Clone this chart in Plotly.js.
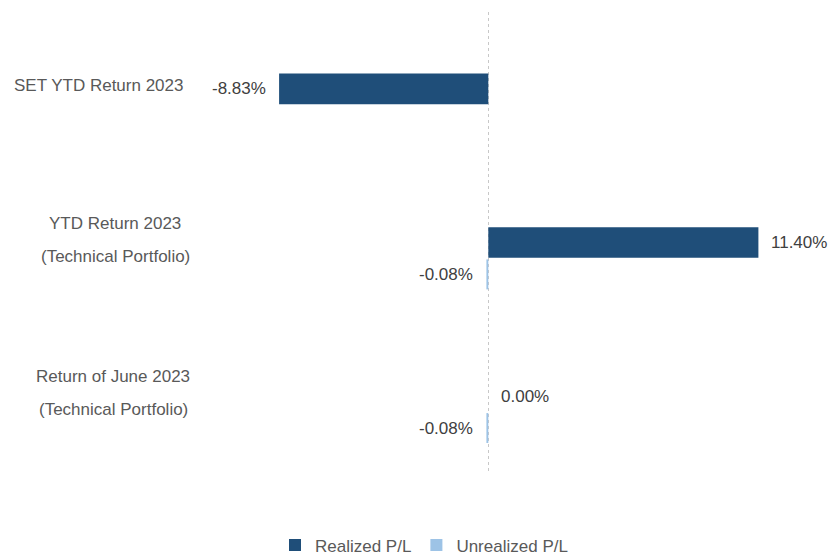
<!DOCTYPE html>
<html>
<head>
<meta charset="utf-8">
<script src="https://cdn.plot.ly/plotly-3.0.1.min.js"></script>
<style>
html,body{margin:0;padding:0;background:#fff;}
#chart{width:832px;height:558px;}
</style>
</head>
<body>
<div id="chart"></div>
<script>
// ---- data ----
var categories = ["SET YTD Return 2023", "YTD Return 2023 (Technical Portfolio)", "Return of June 2023 (Technical Portfolio)"];
var categoryLines = [["SET YTD Return 2023"], ["YTD Return 2023", "(Technical Portfolio)"], ["Return of June 2023", "(Technical Portfolio)"]];
var seriesNames = ["Realized P/L", "Unrealized P/L"];
var realized = [-8.83, 11.40, 0.00];
var unrealized = [null, -0.08, -0.08];

// ---- layout constants ----
var W = 832, H = 558;
var mL = 204, mR = 12, mT = 12, mB = 85;
var plotW = W - mL - mR;
var labelCenters = [98, 115, 113];
var FONT = "Liberation Sans, Arial, sans-serif";
var darkBlue = "#1f4e79", lightBlue = "#9dc3e6";

function fmt(v){ return v.toFixed(2) + "%"; }

var traces = [
  {type: "bar", orientation: "h", name: seriesNames[0], y: categories, x: realized,
   offset: -0.1, width: 0.2, marker: {color: darkBlue}, hoverinfo: "none"},
  {type: "bar", orientation: "h", name: seriesNames[1], y: categories, x: unrealized,
   offset: 0.11, width: 0.195, marker: {color: lightBlue}, hoverinfo: "none"}
];

var annotations = [];
// category labels
categoryLines.forEach(function(lines, ci){
  var n = lines.length;
  lines.forEach(function(line, li){
    var off = (li - (n - 1) / 2) * 33;
    annotations.push({
      xref: "paper", yref: "y", x: (labelCenters[ci] - mL) / plotW, y: categories[ci],
      text: line, showarrow: false, xanchor: "center", yanchor: "middle",
      yshift: 3 - off, font: {family: FONT, size: 17, color: "#595959"}
    });
  });
});
// data labels
function addLabels(vals, yshift){
  vals.forEach(function(v, i){
    if (v === null) return;
    var neg = v < 0;
    annotations.push({
      xref: "x", yref: "y", x: v, y: categories[i], text: fmt(v), showarrow: false,
      xanchor: neg ? "right" : "left", yanchor: "middle", xshift: neg ? -11 : 11,
      yshift: yshift, font: {family: FONT, size: 17, color: "#404040"}
    });
  });
}
addLabels(realized, 0);
addLabels(unrealized, -32);

var layout = {
  width: W, height: H,
  margin: {l: mL, r: mR, t: mT, b: mB, autoexpand: false},
  paper_bgcolor: "#fff", plot_bgcolor: "#fff",
  barmode: "group",
  showlegend: true,
  legend: {orientation: "h", x: (275 - mL) / plotW, xanchor: "left", y: -0.118, yanchor: "top",
           font: {family: FONT, size: 17, color: "#595959"}, traceorder: "normal"},
  xaxis: {range: [-12, 14], tickvals: [0], showticklabels: false, showgrid: true,
          gridcolor: "#c8c8c8", gridwidth: 1, griddash: "dot", zeroline: false, showline: false,
          fixedrange: true, automargin: false},
  yaxis: {type: "category", range: [2.5, -0.5], showticklabels: false, showgrid: false,
          zeroline: false, showline: false, ticks: "", fixedrange: true, automargin: false},
  annotations: annotations,
  font: {family: FONT}
};

Plotly.newPlot("chart", traces, layout, {displayModeBar: false, staticPlot: true});
</script>
</body>
</html>
